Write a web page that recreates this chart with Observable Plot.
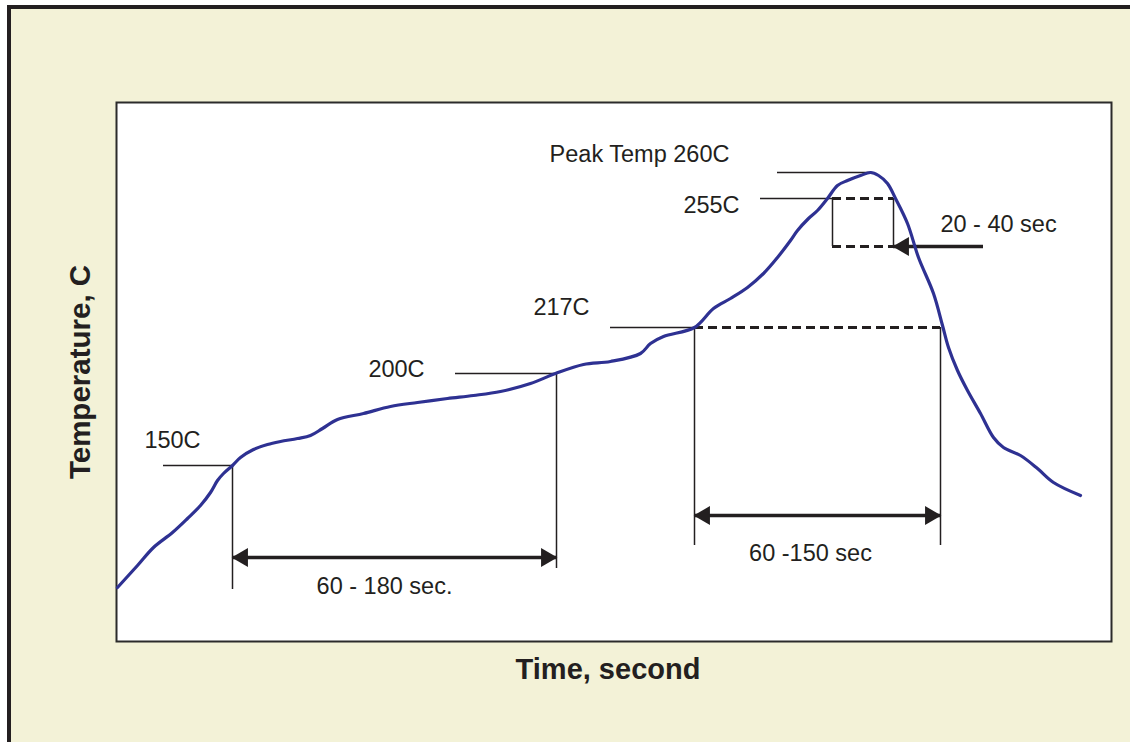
<!DOCTYPE html>
<html>
<head>
<meta charset="utf-8">
<script src="https://cdn.jsdelivr.net/npm/d3@7"></script>
<script src="https://cdn.jsdelivr.net/npm/@observablehq/plot@0.6"></script>
<style>
  html, body { margin: 0; padding: 0; background: #ffffff; overflow: hidden; }
  #chart {
    position: absolute; left: 7px; top: 5px;
    width: 1119px; height: 733px;
    border-left: 4px solid #231f20; border-top: 4px solid #231f20;
    background: #f3f2d7;
  }
  #chart svg { display: block; background: transparent; }
</style>
</head>
<body>
<div id="chart"></div>
<script>
// Reflow profile (schematic): time in drawing units, temperature level in drawing units
const profileTime = [1, 21, 37, 56, 71, 84, 94, 101, 107, 116, 124, 137, 151, 164, 181, 194, 206, 221, 247, 274, 301, 331, 357, 384, 414, 439, 467, 494, 524, 534, 547, 578, 597, 614, 631, 647, 661, 674, 681, 692, 701, 711, 721, 731, 744, 754, 762, 771, 779, 791, 802, 817, 826, 832, 841, 851, 864, 877, 887, 904, 921, 937, 964];
const profileTemp = [54, 76, 94, 109, 123, 136, 149, 161, 168, 176, 184, 192, 197, 200, 203, 206, 213, 222, 228, 235, 239, 243, 246, 250, 258, 268, 277, 280, 288, 298, 305, 314, 333, 343, 354, 368, 384, 401, 411, 423, 431, 443, 456, 461, 466, 469, 466, 458, 443, 418, 384, 348, 316, 294, 271, 251, 228, 204, 194, 186, 173, 159, 146];

// Key profile points
const keyLabels = ["150C", "200C", "217C", "255C", "Peak Temp 260C"];
const leaderStart = [47, 339, 494, 644, 661];
const leaderEnd = [116, 440, 578, 716, 756];
const leaderLevel = [176, 268, 314, 443, 469];
const labelTime = [56, 280, 445, 595, 523];
const labelLevel = [194, 265, 327, 429, 480];

// Vertical drop lines
const dropTime = [116, 440, 578, 824];
const dropTop = [176, 268, 314, 314];
const dropBottom = [52, 73, 96, 96];

// Duration spans
const spanLabels = ["60 - 180 sec.", "60 -150 sec"];
const spanStart = [116, 578];
const spanEnd = [440, 824];
const spanLevel = [84, 126];
const spanLabelTime = [268, 694];
const spanLabelLevel = [48, 81];

// Time above 255C box
const boxStart = 716, boxEnd = 777, boxTop = 443, boxBottom = 395;
const boxArrowFrom = 867;
const boxLabel = "20 - 40 sec", boxLabelTime = 882, boxLabelLevel = 410;

const profile = profileTime.map((t, i) => ({time: t, temp: profileTemp[i]}));
const leaders = keyLabels.map((k, i) => ({x1: leaderStart[i], x2: leaderEnd[i], y: leaderLevel[i]}));
const labels = keyLabels.map((k, i) => ({text: k, x: labelTime[i], y: labelLevel[i]}));
const drops = dropTime.map((t, i) => ({x: t, y1: dropTop[i], y2: dropBottom[i]}));
const spans = spanLabels.map((s, i) => ({text: s, x1: spanStart[i], x2: spanEnd[i], y: spanLevel[i], lx: spanLabelTime[i], ly: spanLabelLevel[i]}));
const dashed = [
  {x1: spanStart[1], x2: spanEnd[1], y: leaderLevel[2]},
  {x1: boxStart, x2: boxEnd, y: boxTop},
  {x1: boxStart, x2: boxEnd, y: boxBottom}
];
const boxSides = [{x: boxStart, y1: boxBottom, y2: boxTop}, {x: boxEnd, y1: boxBottom, y2: boxTop}];

const ink = "#231f20";
const font = "'Liberation Sans', Arial, Helvetica, sans-serif";
const labelSize = 23.5;

const chart = Plot.plot({
  width: 1119,
  height: 733,
  marginLeft: 105,
  marginRight: 19,
  marginTop: 93,
  marginBottom: 101,
  style: {fontFamily: font, background: "transparent", overflow: "visible"},
  x: {domain: [0, 995], axis: null},
  y: {domain: [0, 539], axis: null},
  marks: [
    Plot.frame({fill: "white", stroke: "#2b2b2b", strokeWidth: 2}),
    // thin leader lines
    Plot.ruleY(leaders, {y: "y", x1: "x1", x2: "x2", stroke: ink, strokeWidth: 1.5}),
    Plot.ruleX(drops, {x: "x", y1: "y1", y2: "y2", stroke: ink, strokeWidth: 1.5}),
    Plot.ruleX(boxSides, {x: "x", y1: "y1", y2: "y2", stroke: ink, strokeWidth: 1.5}),
    // dashed levels
    Plot.ruleY(dashed, {y: "y", x1: "x1", x2: "x2", stroke: ink, strokeWidth: 3, strokeDasharray: "9,5"}),
    // span arrows
    Plot.ruleY(spans, {y: "y", x1: "x1", x2: "x2", stroke: ink, strokeWidth: 3.5}),
    Plot.dot(spans, {x: "x1", y: "y", symbol: "triangle", r: 7, rotate: -90, dx: 10, fill: ink, stroke: null}),
    Plot.dot(spans, {x: "x2", y: "y", symbol: "triangle", r: 7, rotate: 90, dx: -10, fill: ink, stroke: null}),
    // box arrow
    Plot.ruleY([boxBottom], {x1: boxEnd, x2: boxArrowFrom, stroke: ink, strokeWidth: 3.5}),
    Plot.dot([{x: boxEnd, y: boxBottom}], {x: "x", y: "y", symbol: "triangle", r: 7, rotate: -90, dx: 10, fill: ink, stroke: null}),
    // profile curve
    Plot.line(profile, {x: "time", y: "temp", stroke: "#2e3192", strokeWidth: 3.2, curve: "catmull-rom"}),
    // labels
    Plot.text(labels, {x: "x", y: "y", text: "text", fontSize: labelSize, fill: ink, textAnchor: "middle", lineAnchor: "bottom"}),
    Plot.text(spans, {x: "lx", y: "ly", text: "text", fontSize: labelSize, fill: ink, textAnchor: "middle", lineAnchor: "bottom"}),
    Plot.text([boxLabel], {x: boxLabelTime, y: boxLabelLevel, fontSize: labelSize, fill: ink, textAnchor: "middle", lineAnchor: "bottom"}),
    // axis titles
    Plot.text(["Time, second"], {frameAnchor: "bottom", dy: 28, dx: -6, fontSize: 29, fontWeight: "bold", fill: ink, textAnchor: "middle", lineAnchor: "middle"}),
    Plot.text(["Temperature, C"], {frameAnchor: "left", dx: -36, rotate: -90, fontSize: 29.5, fontWeight: "bold", fill: ink, textAnchor: "middle", lineAnchor: "middle"})
  ]
});
document.getElementById("chart").appendChild(chart);
</script>
</body>
</html>
